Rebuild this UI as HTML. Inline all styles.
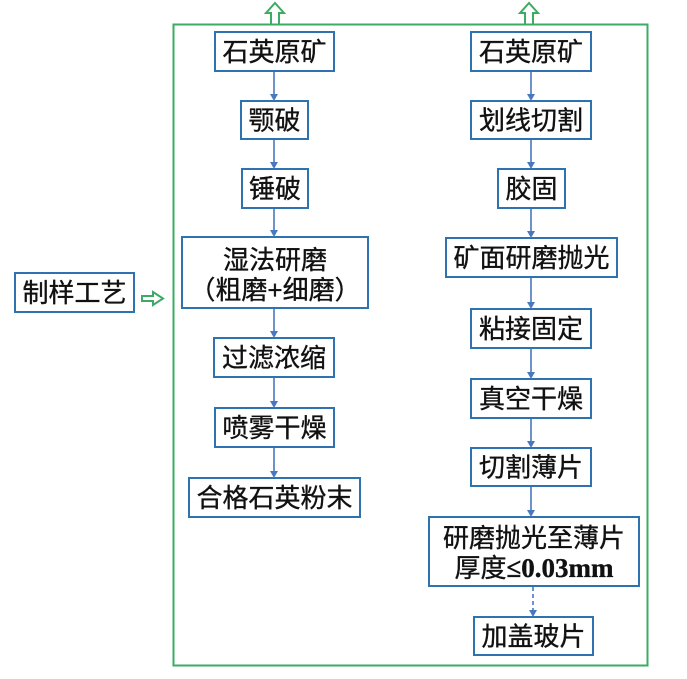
<!DOCTYPE html>
<html><head><meta charset="utf-8"><style>
html,body{margin:0;padding:0;background:#fff;}
svg{display:block;}
text{font-family:"Liberation Sans","Noto Sans CJK SC",sans-serif;font-size:26px;fill:#111;stroke:#111;stroke-width:0.35px;}
.b{fill:#fff;stroke:#2f72b0;stroke-width:2;}
.a{stroke:#4a78c0;stroke-width:1.6;fill:none;}
.h{fill:#4a78c0;}
.g{fill:none;stroke:#3dab63;stroke-width:2;}
</style></head><body>
<svg width="687" height="679" viewBox="0 0 687 679" xmlns="http://www.w3.org/2000/svg">
<!-- green frame -->
<rect class="g" x="173.5" y="24.5" width="474" height="641"/>
<!-- up arrows -->
<path class="g" d="M271,24 L271,13 L266,13 L275,3 L284,13 L279,13 L279,24" fill="#fff"/>
<path class="g" d="M525,24 L525,13 L520,13 L529,3 L538,13 L533,13 L533,24" fill="#fff"/>
<!-- right hollow arrow -->
<path class="g" d="M142,296 L153,296 L153,292 L163,298.5 L153,305 L153,301 L142,301 Z"/>

<!-- left label -->
<rect class="b" x="15" y="273" width="119" height="39"/>
<text x="74.5" y="293" text-anchor="middle" dominant-baseline="central">制样工艺</text>

<!-- left column -->
<rect class="b" x="215" y="32" width="119" height="39"/>
<text x="274.5" y="52" text-anchor="middle" dominant-baseline="central">石英原矿</text>
<rect class="b" x="241" y="101" width="67" height="38"/>
<text x="274.5" y="120.5" text-anchor="middle" dominant-baseline="central">颚破</text>
<rect class="b" x="242" y="169" width="66" height="39"/>
<text x="275" y="189" text-anchor="middle" dominant-baseline="central">锤破</text>
<rect class="b" x="182" y="237" width="186" height="71"/>
<text x="275" y="260" text-anchor="middle" dominant-baseline="central">湿法研磨</text>
<text x="275" y="290" text-anchor="middle" dominant-baseline="central">（粗磨+细磨）</text>
<rect class="b" x="214" y="338" width="120" height="39"/>
<text x="274" y="358" text-anchor="middle" dominant-baseline="central">过滤浓缩</text>
<rect class="b" x="215" y="408" width="119" height="39"/>
<text x="274.5" y="428" text-anchor="middle" dominant-baseline="central">喷雾干燥</text>
<rect class="b" x="189" y="478" width="171" height="39"/>
<text x="274.5" y="498" text-anchor="middle" dominant-baseline="central">合格石英粉末</text>

<!-- left arrows -->
<g>
<line class="a" x1="274" y1="72" x2="274" y2="95"/><path class="h" d="M270,94 L278,94 L274,101 Z"/>
<line class="a" x1="274" y1="140" x2="274" y2="163"/><path class="h" d="M270,162 L278,162 L274,169 Z"/>
<line class="a" x1="274" y1="209" x2="274" y2="231"/><path class="h" d="M270,230 L278,230 L274,237 Z"/>
<line class="a" x1="274" y1="309" x2="274" y2="332"/><path class="h" d="M270,331 L278,331 L274,338 Z"/>
<line class="a" x1="274" y1="378" x2="274" y2="402"/><path class="h" d="M270,401 L278,401 L274,408 Z"/>
<line class="a" x1="274" y1="448" x2="274" y2="472"/><path class="h" d="M270,471 L278,471 L274,478 Z"/>
</g>

<!-- right column -->
<rect class="b" x="471" y="32" width="120" height="39"/>
<text x="531" y="52" text-anchor="middle" dominant-baseline="central">石英原矿</text>
<rect class="b" x="471" y="101" width="120" height="38"/>
<text x="531" y="120.5" text-anchor="middle" dominant-baseline="central">划线切割</text>
<rect class="b" x="498" y="169" width="67" height="39"/>
<text x="531.5" y="189" text-anchor="middle" dominant-baseline="central">胶固</text>
<rect class="b" x="446" y="238" width="171" height="39"/>
<text x="531.5" y="258" text-anchor="middle" dominant-baseline="central">矿面研磨抛光</text>
<rect class="b" x="471" y="309" width="120" height="39"/>
<text x="531" y="329" text-anchor="middle" dominant-baseline="central">粘接固定</text>
<rect class="b" x="471" y="379" width="120" height="39"/>
<text x="531" y="399" text-anchor="middle" dominant-baseline="central">真空干燥</text>
<rect class="b" x="471" y="448" width="120" height="38"/>
<text x="531" y="467.5" text-anchor="middle" dominant-baseline="central">切割薄片</text>
<rect class="b" x="429" y="517" width="210" height="69"/>
<text x="534" y="538" text-anchor="middle" dominant-baseline="central">研磨抛光至薄片</text>
<text x="534" y="568" text-anchor="middle" dominant-baseline="central">厚度<tspan style="font-family:'Liberation Serif',serif;font-weight:bold;font-size:27px;">≤0.03mm</tspan></text>
<rect class="b" x="474" y="617" width="119" height="38"/>
<text x="533.5" y="636.5" text-anchor="middle" dominant-baseline="central">加盖玻片</text>

<!-- right arrows -->
<g>
<line class="a" x1="531" y1="72" x2="531" y2="95"/><path class="h" d="M527,94 L535,94 L531,101 Z"/>
<line class="a" x1="531" y1="140" x2="531" y2="163"/><path class="h" d="M527,162 L535,162 L531,169 Z"/>
<line class="a" x1="531" y1="209" x2="531" y2="232"/><path class="h" d="M527,231 L535,231 L531,238 Z"/>
<line class="a" x1="531" y1="278" x2="531" y2="303"/><path class="h" d="M527,302 L535,302 L531,309 Z"/>
<line class="a" x1="531" y1="349" x2="531" y2="373"/><path class="h" d="M527,372 L535,372 L531,379 Z"/>
<line class="a" x1="531" y1="419" x2="531" y2="442"/><path class="h" d="M527,441 L535,441 L531,448 Z"/>
<line class="a" x1="531" y1="487" x2="531" y2="511"/><path class="h" d="M527,510 L535,510 L531,517 Z"/>
<line class="a" x1="533" y1="587" x2="533" y2="611" stroke-dasharray="4,3"/><path class="h" d="M529,610 L537,610 L533,617 Z"/>
</g>
</svg>
</body></html>
